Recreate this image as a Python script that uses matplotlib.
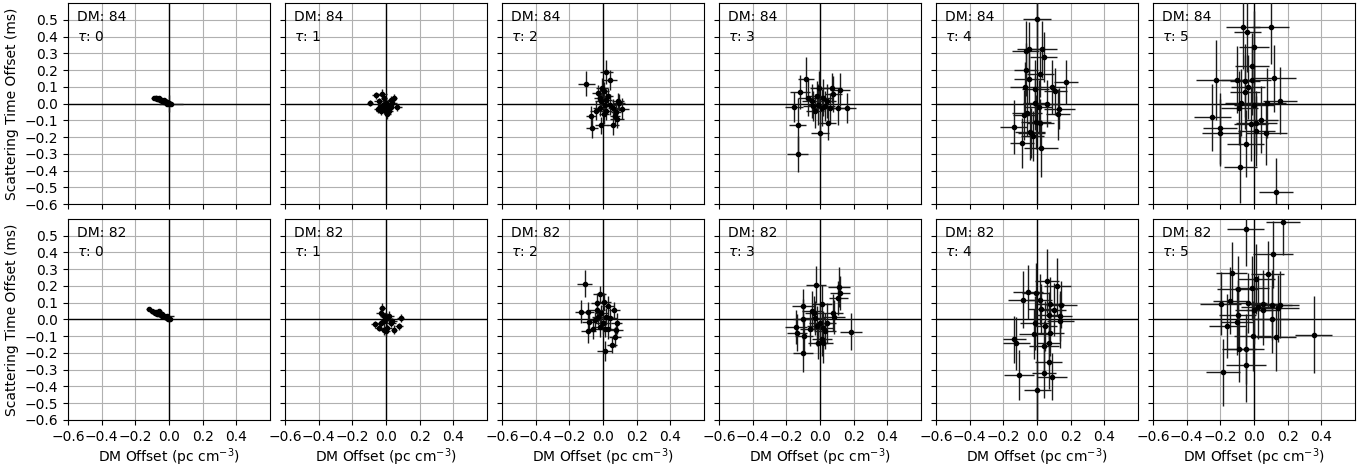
import matplotlib.pyplot as plt

dm_values = [84, 82]
tau_values = [0, 1, 2, 3, 4, 5]
x_ticks = [-0.6, -0.4, -0.2, 0.0, 0.2, 0.4]
y_ticks = [-0.6, -0.5, -0.4, -0.3, -0.2, -0.1, 0.0, 0.1, 0.2, 0.3, 0.4, 0.5]

# ---- DM 84 ----
x_84_0 = [-0.09, -0.08, -0.075, -0.07, -0.065, -0.06, -0.055, -0.05, -0.045, -0.04, -0.035,
          -0.03, -0.025, -0.02, -0.015, -0.01, -0.005, 0.0, 0.0, 0.01, -0.03, -0.015]
y_84_0 = [0.035, 0.03, 0.032, 0.028, 0.025, 0.03, 0.022, 0.02, 0.024, 0.018, 0.015,
          0.012, 0.014, 0.01, 0.008, 0.006, 0.004, 0.002, -0.004, 0.0, 0.02, 0.0]
xe_84_0 = [0.015, 0.02, 0.015, 0.02, 0.015, 0.02, 0.015, 0.02, 0.015, 0.02, 0.015,
           0.02, 0.015, 0.02, 0.015, 0.02, 0.015, 0.02, 0.015, 0.07, 0.02, 0.015]
ye_84_0 = [0.01, 0.012, 0.01, 0.012, 0.01, 0.012, 0.01, 0.012, 0.01, 0.012, 0.01,
           0.012, 0.01, 0.012, 0.01, 0.012, 0.01, 0.05, 0.012, 0.01, 0.012, 0.01]

x_84_1 = [-0.095, -0.057, -0.022, -0.012, 0.028, 0.048, 0.067, -0.036, -0.012, 0.018,
          0.008, -0.032, 0.028, -0.042, 0.0, 0.012, -0.02, 0.038, -0.05, 0.0]
y_84_1 = [0.004, 0.048, 0.057, 0.034, 0.024, 0.034, -0.022, -0.022, -0.036, -0.046,
          -0.065, -0.046, -0.022, 0.014, 0.004, -0.006, -0.006, 0.004, -0.03, -0.026]
xe_84_1 = [0.02, 0.025, 0.03, 0.02, 0.025, 0.02, 0.025, 0.02, 0.03, 0.025,
           0.02, 0.025, 0.02, 0.03, 0.025, 0.02, 0.03, 0.025, 0.02, 0.025]
ye_84_1 = [0.02, 0.02, 0.03, 0.025, 0.02, 0.025, 0.02, 0.03, 0.025, 0.02,
           0.03, 0.025, 0.02, 0.02, 0.03, 0.025, 0.02, 0.02, 0.025, 0.03]

x_84_2 = [-0.099, 0.02, 0.04, -0.004, -0.028, 0.004, -0.02, 0.016, 0.03, -0.04, -0.02,
          -0.069, -0.065, -0.01, 0.004, 0.059, 0.083, 0.079, 0.095, 0.115, 0.069, 0.02,
          0.01, 0.04, -0.01, 0.059, 0.089]
y_84_2 = [0.117, 0.188, 0.139, 0.093, 0.063, 0.073, 0.034, 0.024, 0.044, -0.042, -0.026,
          -0.075, -0.145, -0.131, -0.065, -0.129, -0.095, -0.051, 0.004, -0.03, -0.075,
          -0.046, -0.006, -0.006, 0.014, -0.026, 0.014]
xe_84_2 = [0.05, 0.04, 0.04, 0.035, 0.04, 0.03, 0.035, 0.04, 0.03, 0.035, 0.04,
           0.03, 0.035, 0.04, 0.03, 0.035, 0.04, 0.03, 0.035, 0.04, 0.03, 0.035,
           0.03, 0.04, 0.035, 0.03, 0.035]
ye_84_2 = [0.075, 0.07, 0.06, 0.06, 0.05, 0.055, 0.05, 0.06, 0.05, 0.055, 0.05,
           0.06, 0.06, 0.05, 0.055, 0.06, 0.05, 0.055, 0.05, 0.06, 0.05, 0.055,
           0.05, 0.06, 0.05, 0.055, 0.05]

x_84_3 = [-0.083, -0.119, -0.154, -0.133, -0.133, 0.0, 0.046, 0.069, 0.119, 0.079, 0.158,
          0.109, -0.069, -0.05, -0.02, -0.01, -0.03, 0.01, 0.03, 0.04, 0.02, -0.04,
          -0.004, 0.059]
y_84_3 = [0.149, 0.069, -0.02, -0.129, -0.301, -0.174, -0.119, 0.093, 0.083, 0.057, -0.026,
          -0.026, 0.034, 0.014, 0.044, -0.006, -0.046, -0.026, -0.016, 0.014, 0.034, -0.016,
          0.093, -0.026]
xe_84_3 = [0.05, 0.06, 0.055, 0.05, 0.063, 0.055, 0.05, 0.055, 0.06, 0.05, 0.055,
           0.05, 0.06, 0.055, 0.05, 0.06, 0.055, 0.05, 0.06, 0.055, 0.05, 0.06,
           0.055, 0.05]
ye_84_3 = [0.13, 0.1, 0.09, 0.16, 0.11, 0.12, 0.1, 0.09, 0.1, 0.11, 0.09,
           0.1, 0.11, 0.1, 0.09, 0.12, 0.1, 0.11, 0.09, 0.1, 0.11, 0.09,
           0.1, 0.09]

x_84_4 = [0.0, -0.067, -0.046, 0.03, 0.04, -0.065, 0.02, -0.048, 0.172, 0.089, 0.109,
          -0.069, -0.01, -0.014, 0.059, 0.133, 0.123, 0.01, -0.059, -0.075, -0.139, -0.04,
          -0.026, 0.02, -0.006, -0.089, 0.024, -0.034]
y_84_4 = [0.505, 0.315, 0.325, 0.325, 0.277, 0.202, 0.176, 0.149, 0.129, 0.099, 0.073,
          0.097, 0.089, 0.004, -0.002, -0.03, -0.065, -0.022, -0.055, -0.069, -0.139, -0.168,
          -0.194, -0.115, -0.109, -0.234, -0.267, -0.174]
xe_84_4 = [0.085, 0.08, 0.07, 0.09, 0.08, 0.07, 0.08, 0.09, 0.07, 0.08, 0.07,
           0.09, 0.08, 0.07, 0.08, 0.09, 0.07, 0.08, 0.09, 0.07, 0.08, 0.09,
           0.07, 0.08, 0.09, 0.07, 0.1, 0.08]
ye_84_4 = [0.2, 0.18, 0.16, 0.17, 0.15, 0.16, 0.14, 0.15, 0.13, 0.16, 0.14,
           0.15, 0.17, 0.16, 0.14, 0.12, 0.15, 0.16, 0.14, 0.15, 0.16, 0.17,
           0.15, 0.14, 0.16, 0.15, 0.17, 0.15]

x_84_5 = [-0.067, -0.039, 0.099, 0.0, -0.012, -0.227, -0.099, -0.055, -0.01, 0.117, -0.035,
          -0.055, 0.153, 0.08, 0.0, -0.075, -0.089, -0.249, -0.204, -0.2, -0.016, 0.014,
          0.044, 0.014, 0.073, -0.049, -0.081, 0.129]
y_84_5 = [0.457, 0.428, 0.457, 0.335, 0.222, 0.139, 0.143, 0.137, 0.141, 0.15, 0.097,
          0.069, 0.018, 0.004, -0.006, 0.004, -0.026, -0.081, -0.149, -0.174, -0.121, -0.115,
          -0.097, -0.164, -0.174, -0.24, -0.376, -0.527]
xe_84_5 = [0.1, 0.08, 0.11, 0.09, 0.1, 0.12, 0.1, 0.09, 0.11, 0.13, 0.1,
           0.09, 0.1, 0.11, 0.12, 0.1, 0.11, 0.11, 0.1, 0.11, 0.1, 0.12,
           0.1, 0.11, 0.12, 0.11, 0.1, 0.1]
ye_84_5 = [0.25, 0.24, 0.22, 0.22, 0.2, 0.24, 0.2, 0.22, 0.21, 0.2, 0.19,
           0.22, 0.2, 0.21, 0.23, 0.2, 0.22, 0.2, 0.21, 0.2, 0.22, 0.19,
           0.2, 0.21, 0.19, 0.2, 0.22, 0.2]

# ---- DM 82 ----
x_82_0 = [-0.12, -0.1, -0.09, -0.085, -0.08, -0.075, -0.07, -0.065, -0.06, -0.055, -0.05,
          -0.045, -0.04, -0.035, -0.03, -0.025, -0.02, -0.015, -0.01, -0.005, 0.0, 0.005,
          -0.06, -0.04]
y_82_0 = [0.06, 0.05, 0.045, 0.04, 0.042, 0.038, 0.035, 0.032, 0.04, 0.03, 0.028,
          0.025, 0.022, 0.02, 0.018, 0.015, 0.012, 0.01, 0.02, 0.005, 0.002, 0.0,
          0.05, 0.03]
xe_82_0 = [0.015, 0.02, 0.015, 0.02, 0.015, 0.02, 0.015, 0.02, 0.015, 0.02, 0.015,
           0.02, 0.015, 0.02, 0.015, 0.02, 0.015, 0.02, 0.04, 0.015, 0.02, 0.015,
           0.02, 0.015]
ye_82_0 = [0.01, 0.012, 0.01, 0.012, 0.01, 0.012, 0.01, 0.012, 0.01, 0.012, 0.01,
           0.012, 0.01, 0.012, 0.01, 0.012, 0.01, 0.012, 0.01, 0.012, 0.01, 0.012,
           0.01, 0.012]

x_82_1 = [-0.067, -0.022, -0.032, -0.012, 0.008, 0.028, 0.077, 0.087, -0.012, 0.008,
          -0.032, 0.038, 0.018, -0.012, -0.042, 0.048, 0.0]
y_82_1 = [-0.03, 0.07, 0.04, 0.02, 0.01, -0.02, -0.04, 0.01, -0.06, -0.05,
          -0.02, -0.01, 0.02, -0.01, -0.05, -0.06, -0.07]
xe_82_1 = [0.025, 0.02, 0.03, 0.025, 0.02, 0.03, 0.025, 0.02, 0.025, 0.03,
           0.02, 0.025, 0.03, 0.02, 0.025, 0.02, 0.025]
ye_82_1 = [0.02, 0.03, 0.025, 0.02, 0.03, 0.025, 0.02, 0.025, 0.03, 0.02,
           0.025, 0.02, 0.03, 0.025, 0.02, 0.025, 0.03]

x_82_2 = [-0.108, -0.129, -0.09, -0.084, -0.088, -0.036, -0.02, -0.036, -0.03, -0.02, 0.004,
          0.028, 0.02, 0.0, 0.01, 0.032, 0.068, 0.08, 0.076, 0.072, 0.052, 0.01,
          -0.05, -0.06, -0.01, 0.04]
y_82_2 = [0.213, 0.046, 0.046, -0.014, -0.068, 0.1, 0.149, 0.056, 0.016, -0.044, 0.106,
          0.08, 0.016, -0.024, -0.056, -0.054, 0.056, -0.024, -0.06, -0.104, -0.153, -0.189,
          -0.004, -0.054, 0.036, 0.006]
xe_82_2 = [0.045, 0.04, 0.035, 0.04, 0.045, 0.035, 0.04, 0.045, 0.035, 0.04, 0.045,
           0.035, 0.04, 0.045, 0.035, 0.04, 0.03, 0.035, 0.04, 0.035, 0.03, 0.045,
           0.04, 0.035, 0.04, 0.045]
ye_82_2 = [0.08, 0.07, 0.06, 0.06, 0.07, 0.06, 0.05, 0.06, 0.05, 0.06, 0.05,
           0.06, 0.05, 0.06, 0.05, 0.06, 0.05, 0.06, 0.05, 0.06, 0.05, 0.06,
           0.05, 0.06, 0.05, 0.06]

x_82_3 = [-0.026, 0.113, 0.119, 0.109, 0.012, -0.099, -0.05, -0.036, 0.075, 0.083, -0.099,
          -0.145, -0.139, -0.095, -0.103, 0.184, -0.059, -0.02, 0.02, 0.03, 0.01, 0.02,
          -0.01, 0.0, -0.03, 0.04]
y_82_3 = [0.208, 0.192, 0.158, 0.129, 0.095, 0.079, 0.05, 0.04, 0.04, 0.016, 0.004,
          -0.046, -0.079, -0.099, -0.202, -0.073, -0.059, -0.04, -0.05, -0.069, -0.119, -0.139,
          -0.139, -0.02, 0.01, -0.02]
xe_82_3 = [0.06, 0.065, 0.06, 0.055, 0.06, 0.065, 0.06, 0.055, 0.06, 0.065, 0.06,
           0.065, 0.06, 0.055, 0.06, 0.065, 0.06, 0.055, 0.06, 0.065, 0.06, 0.055,
           0.06, 0.065, 0.06, 0.055]
ye_82_3 = [0.11, 0.12, 0.1, 0.1, 0.11, 0.1, 0.12, 0.1, 0.11, 0.1, 0.12,
           0.1, 0.11, 0.1, 0.11, 0.11, 0.1, 0.12, 0.1, 0.11, 0.1, 0.12,
           0.1, 0.11, 0.1, 0.12]

x_82_4 = [0.059, 0.119, -0.055, -0.008, -0.085, 0.016, 0.079, 0.145, 0.026, 0.103, 0.069,
          0.139, 0.139, -0.02, -0.135, -0.123, 0.04, 0.069, 0.069, 0.04, 0.089, -0.109,
          0.002, -0.01, 0.05, 0.08]
y_82_4 = [0.228, 0.198, 0.164, 0.158, 0.119, 0.119, 0.095, 0.089, 0.063, 0.059, 0.024,
          0.02, -0.01, -0.089, -0.119, -0.143, -0.158, -0.139, -0.253, -0.317, -0.343, -0.333,
          -0.422, -0.02, -0.04, -0.079]
xe_82_4 = [0.07, 0.08, 0.09, 0.08, 0.09, 0.07, 0.08, 0.09, 0.08, 0.07, 0.08,
           0.07, 0.08, 0.09, 0.07, 0.08, 0.09, 0.07, 0.08, 0.07, 0.09, 0.09,
           0.08, 0.09, 0.07, 0.08]
ye_82_4 = [0.19, 0.17, 0.16, 0.18, 0.17, 0.15, 0.16, 0.14, 0.15, 0.16, 0.14,
           0.15, 0.16, 0.15, 0.14, 0.16, 0.15, 0.14, 0.16, 0.15, 0.14, 0.15,
           0.18, 0.16, 0.15, 0.14]

x_82_5 = [0.171, -0.048, 0.113, -0.133, 0.081, 0.012, -0.012, -0.097, -0.199, -0.143, -0.034,
          0.052, 0.105, 0.155, 0.022, 0.145, -0.097, 0.105, -0.159, -0.099, -0.008, 0.129,
          0.356, -0.089, -0.048, -0.048, -0.185, 0.0, 0.055]
y_82_5 = [0.582, 0.542, 0.389, 0.28, 0.27, 0.24, 0.189, 0.179, 0.095, 0.111, 0.099,
          0.095, 0.085, 0.089, 0.076, 0.066, 0.026, 0.002, -0.038, -0.014, -0.099, -0.107,
          -0.091, -0.175, -0.175, -0.271, -0.315, 0.055, 0.055]
xe_82_5 = [0.1, 0.11, 0.12, 0.09, 0.1, 0.11, 0.1, 0.12, 0.12, 0.1, 0.11,
           0.1, 0.12, 0.11, 0.1, 0.12, 0.11, 0.1, 0.11, 0.1, 0.11, 0.12,
           0.11, 0.1, 0.11, 0.12, 0.1, 0.11, 0.1]
ye_82_5 = [0.2, 0.22, 0.2, 0.18, 0.2, 0.21, 0.19, 0.2, 0.19, 0.2, 0.18,
           0.2, 0.21, 0.2, 0.19, 0.2, 0.21, 0.2, 0.19, 0.2, 0.21, 0.2,
           0.23, 0.2, 0.21, 0.22, 0.2, 0.2, 0.21]

panels = {
    (84, 0): (x_84_0, y_84_0, xe_84_0, ye_84_0),
    (84, 1): (x_84_1, y_84_1, xe_84_1, ye_84_1),
    (84, 2): (x_84_2, y_84_2, xe_84_2, ye_84_2),
    (84, 3): (x_84_3, y_84_3, xe_84_3, ye_84_3),
    (84, 4): (x_84_4, y_84_4, xe_84_4, ye_84_4),
    (84, 5): (x_84_5, y_84_5, xe_84_5, ye_84_5),
    (82, 0): (x_82_0, y_82_0, xe_82_0, ye_82_0),
    (82, 1): (x_82_1, y_82_1, xe_82_1, ye_82_1),
    (82, 2): (x_82_2, y_82_2, xe_82_2, ye_82_2),
    (82, 3): (x_82_3, y_82_3, xe_82_3, ye_82_3),
    (82, 4): (x_82_4, y_82_4, xe_82_4, ye_82_4),
    (82, 5): (x_82_5, y_82_5, xe_82_5, ye_82_5),
}

fig, axes = plt.subplots(2, 6, figsize=(13.69, 4.68), dpi=100, sharex=True, sharey=True)
fig.subplots_adjust(left=0.0497, right=0.9898, top=0.9936, bottom=0.1026,
                    wspace=0.074, hspace=0.074)

for i, dm in enumerate(dm_values):
    for j, tau in enumerate(tau_values):
        ax = axes[i, j]
        x, y, xe, ye = panels[(dm, tau)]
        ax.grid(True, color='#b0b0b0', linewidth=0.8)
        # zero lines sit above the grid
        ax.axhline(0, color='k', linewidth=1, zorder=2)
        ax.axvline(0, color='k', linewidth=1, zorder=2)
        ax.errorbar(x, y, xerr=xe, yerr=ye, fmt='o', color='k', ms=3,
                    ecolor='0.1', elinewidth=1, capsize=0, zorder=3)
        ax.text(0.045, 0.965, f'DM: {dm}\n$\\tau$: {tau}', transform=ax.transAxes,
                ha='left', va='top', fontsize=10, linespacing=1.5)
        ax.set_xlim(-0.6, 0.6)
        ax.set_ylim(-0.6, 0.6)
        ax.set_xticks(x_ticks)
        ax.set_yticks(y_ticks)
        if j == 0:
            ax.set_ylabel('Scattering Time Offset (ms)', fontsize=10)
        if i == 1:
            ax.set_xlabel('DM Offset (pc cm$^{-3}$)', fontsize=10, labelpad=2)

fig.savefig('out.png', dpi=100)
